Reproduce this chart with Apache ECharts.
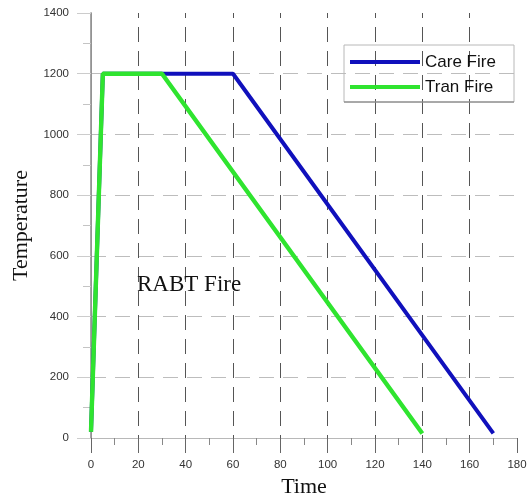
<!DOCTYPE html>
<html>
<head>
<meta charset="utf-8">
<script src="https://cdn.jsdelivr.net/npm/echarts@6/dist/echarts.min.js"></script>
<style>
  html, body { margin: 0; padding: 0; background: #fff; }
  #chart { width: 527px; height: 499px; }
</style>
</head>
<body>
<div id="chart"></div>
<script>
// Fire curves: time (min) vs. temperature (°C)
const careTime = [0, 5, 60, 170];
const careTemp = [20, 1200, 1200, 15];
const tranTime = [0, 5, 30, 140];
const tranTemp = [20, 1200, 1200, 15];
const seriesNames = ['Care Fire', 'Tran Fire'];
const seriesColors = ['#1010bc', '#2fe42f'];
const xTicks = { min: 0, max: 180, interval: 20 };
const yTicks = { min: 0, max: 1400, interval: 200 };

const pairs = (xs, ys) => xs.map((x, i) => [x, ys[i]]);

const tickFont = { fontFamily: 'Liberation Sans, Arial, sans-serif', fontSize: 11.5, color: '#333',
  formatter: v => String(v) };
const serif = 'Liberation Serif, "Times New Roman", serif';

const chart = echarts.init(document.getElementById('chart'));
chart.setOption({
  animation: false,
  backgroundColor: '#fff',
  grid: { left: 91, right: 10, top: 13, bottom: 61, containLabel: false, outerBoundsMode: 'none' },
  xAxis: [{
    type: 'value',
    min: xTicks.min, max: xTicks.max, interval: xTicks.interval,
    name: 'Time', nameLocation: 'middle', nameGap: 36,
    nameTextStyle: { fontFamily: serif, fontSize: 22, color: '#111' },
    axisLine: { show: true, lineStyle: { color: '#e2e2e2', width: 1 } },
    axisTick: { show: true, length: 15, lineStyle: { color: '#666' } },
    minorTick: { show: true, splitNumber: 2, length: 7, lineStyle: { color: '#888' } },
    axisLabel: Object.assign({ margin: 21 }, tickFont),
    splitLine: { show: true, showMinLine: false, showMaxLine: false,
      lineStyle: { color: '#555', type: [15, 9], dashOffset: 10, width: 1 } }
  }, {
    type: 'value', position: 'top',
    min: xTicks.min, max: xTicks.max,
    axisLine: { show: true, lineStyle: { color: '#b8b8b8' } },
    axisTick: { show: false }, axisLabel: { show: false }, splitLine: { show: false }
  }],
  yAxis: [{
    type: 'value',
    min: yTicks.min, max: yTicks.max, interval: yTicks.interval,
    name: 'Temperature', nameLocation: 'middle', nameGap: 59,
    nameTextStyle: { fontFamily: serif, fontSize: 22, color: '#111' },
    axisLine: { show: true, lineStyle: { color: '#b4b4b4', width: 1 } },
    axisTick: { show: true, length: 14, lineStyle: { color: '#ccc' } },
    minorTick: { show: true, splitNumber: 2, length: 8, lineStyle: { color: '#c4c4c4' } },
    axisLabel: Object.assign({ margin: 22 }, tickFont),
    splitLine: { show: true, showMinLine: false, showMaxLine: false,
      lineStyle: { color: '#bdbdbd', type: [15, 9], width: 1 } }
  }, {
    type: 'value', position: 'right',
    min: yTicks.min, max: yTicks.max,
    axisLine: { show: true, lineStyle: { color: '#888', width: 1.5 } },
    axisTick: { show: false }, axisLabel: { show: false }, splitLine: { show: false }
  }],
  legend: {
    orient: 'vertical',
    left: 350, top: 53,
    icon: 'rect',
    itemWidth: 70, itemHeight: 4,
    itemGap: 7,
    padding: 0,
    selectedMode: false,
    textStyle: { fontFamily: 'Liberation Sans, Arial, sans-serif', fontSize: 17, color: '#111', lineHeight: 18 },
    data: seriesNames
  },
  graphic: [
    { type: 'rect', z: 50, silent: true,
      shape: { x: 344, y: 45, width: 170, height: 57 },
      style: { fill: 'none', stroke: '#b8b8b8', lineWidth: 1 } },
    { type: 'line', z: 51, silent: true,
      shape: { x1: 344, y1: 102, x2: 514, y2: 102 },
      style: { stroke: '#777', lineWidth: 1 } },
    { type: 'text', z: 50, silent: true, x: 137, y: 285,
      style: { text: 'RABT Fire', font: '23px ' + serif, fill: '#111', verticalAlign: 'middle' } }
  ],
  series: [
    { name: seriesNames[0], type: 'line', data: pairs(careTime, careTemp),
      showSymbol: false, color: seriesColors[0],
      lineStyle: { width: 4, color: seriesColors[0] } },
    { name: seriesNames[1], type: 'line', data: pairs(tranTime, tranTemp),
      showSymbol: false, color: seriesColors[1],
      lineStyle: { width: 4.4, color: seriesColors[1] } }
  ]
});
</script>
</body>
</html>
